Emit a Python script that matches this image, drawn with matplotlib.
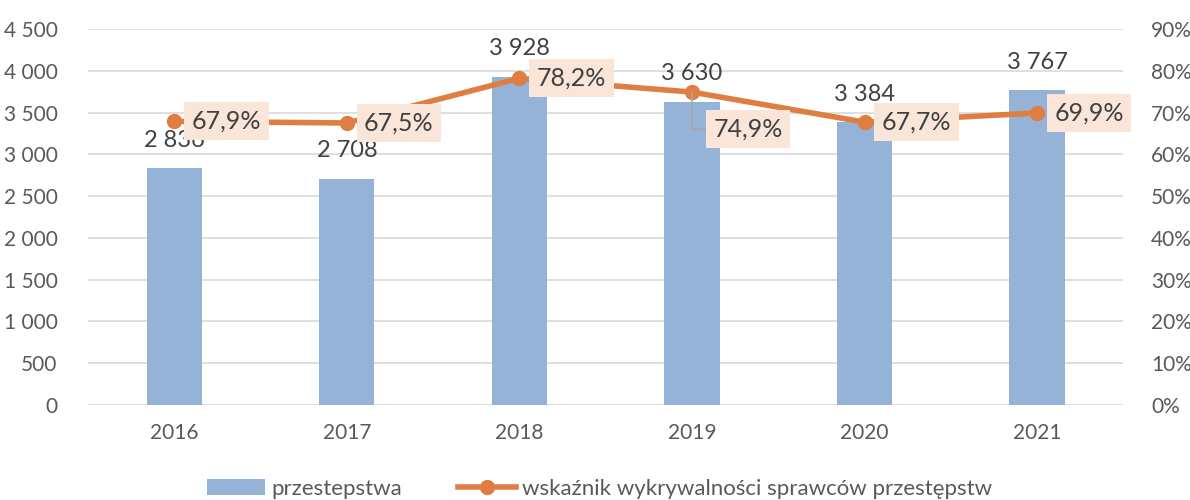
import numpy as np
import matplotlib

matplotlib.use('Agg')
import matplotlib.pyplot as plt
from matplotlib.ticker import FuncFormatter

plt.rcParams['font.family'] = ['Lato', 'DejaVu Sans']

years = ["2016", "2017", "2018", "2019", "2020", "2021"]
przestepstwa = [2836, 2708, 3928, 3630, 3384, 3767]
wskaznik = [67.9, 67.5, 78.2, 74.9, 67.7, 69.9]

bar_color = '#95B3D7'
line_color = '#E07D40'
box_color = '#FAE5D9'
text_color = '#404040'
tick_color = '#595959'

fig = plt.figure(figsize=(11.9, 5), dpi=100)
ax = fig.add_axes([0.074, 0.19, 0.87, 0.752])
ax2 = ax.twinx()

x = np.arange(len(years))
ax.bar(x, przestepstwa, width=0.32, color=bar_color, zorder=2, label='przestepstwa')
ax.set_ylim(0, 4500)
ax.set_yticks(np.arange(0, 4501, 500))
ax.yaxis.set_major_formatter(FuncFormatter(lambda v, p: f"{int(v):,}".replace(',', ' ')))
ax.set_xlim(-0.5, len(years) - 0.5)
ax.set_xticks(x)
ax.set_xticklabels(years)
ax.grid(axis='y', color='#D9D9D9', linewidth=1.2, zorder=0)
ax.set_axisbelow(True)

for i, v in enumerate(przestepstwa):
    ax.annotate(f"{v:,}".replace(',', ' '), (i, v), xytext=(0, 28), textcoords='offset pixels',
                ha='center', va='center', fontsize=17, color=text_color, zorder=3)

ax2.plot(x, wskaznik, color=line_color, linewidth=4, marker='o', markersize=10, zorder=4,
         label='wskaźnik wykrywalności sprawców przestępstw')
ax2.set_ylim(0, 90)
ax2.set_yticks(np.arange(0, 91, 10))
ax2.yaxis.set_major_formatter(FuncFormatter(lambda v, p: f"{int(v)}%"))

for i, v in enumerate(wskaznik):
    txt = f"{v:.1f}%".replace('.', ',')
    box = dict(boxstyle='square,pad=0.3', fc=box_color, ec='none')
    if i == 3:
        ax2.annotate(txt, (i, v), xytext=(56, -37), textcoords='offset pixels',
                     ha='center', va='center', fontsize=18, color=text_color, bbox=box, zorder=5,
                     arrowprops=dict(arrowstyle='-', color='#A6A6A6', lw=1.2,
                                     connectionstyle='angle,angleA=180,angleB=90,rad=0',
                                     shrinkA=0, shrinkB=0))
    else:
        ax2.annotate(txt, (i, v), xytext=(52, 0), textcoords='offset pixels',
                     ha='center', va='center', fontsize=18, color=text_color, bbox=box, zorder=5)

for a in (ax, ax2):
    for s in a.spines.values():
        s.set_visible(False)
    a.tick_params(length=0, labelsize=15, labelcolor=tick_color)
ax.tick_params(axis='x', pad=13)
ax.tick_params(axis='y', pad=22)
ax2.tick_params(axis='y', pad=20)

ax.set_zorder(1)
ax2.set_zorder(2)
ax2.patch.set_visible(False)

h1, l1 = ax.get_legend_handles_labels()
h2, l2 = ax2.get_legend_handles_labels()
fig.legend(h1 + h2, l1 + l2, loc='center', bbox_to_anchor=(0.504, 0.022), ncol=2, frameon=False,
           fontsize=16, labelcolor=tick_color, handlelength=2.6, handletextpad=0.3, columnspacing=2.5)

fig.savefig('out.png', dpi=100)
